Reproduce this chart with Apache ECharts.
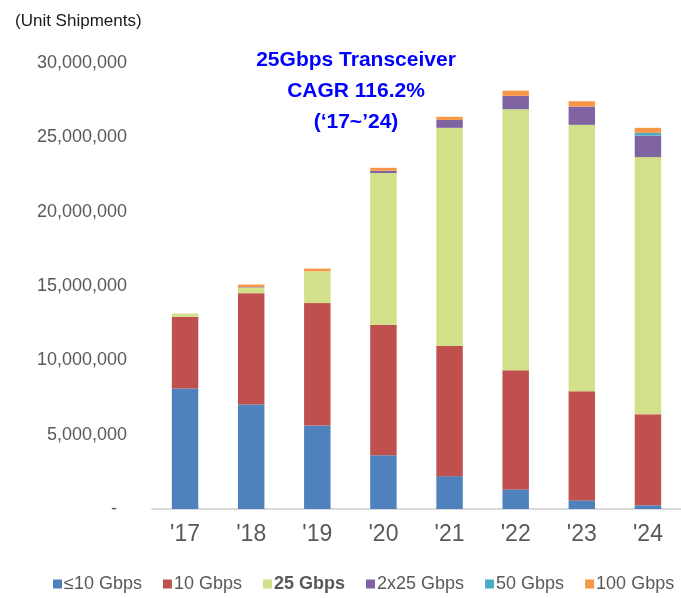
<!DOCTYPE html>
<html>
<head>
<meta charset="utf-8">
<script src="https://cdn.jsdelivr.net/npm/echarts@6/dist/echarts.min.js"></script>
<style>html,body{margin:0;padding:0;background:#fff;}#c{width:681px;height:598px;}</style>
</head>
<body>
<div id="c"></div>
<script>
var categories = ["'17", "'18", "'19", "'20", "'21", "'22", "'23", "'24"];
var seriesNames = ['\u226410 Gbps', '10 Gbps', '25 Gbps', '2x25 Gbps', '50 Gbps', '100 Gbps'];
var le10G = [8100000, 7030000, 5620000, 3620000, 2210000, 1320000, 580000, 250000];
var g10 = [4820000, 7490000, 8230000, 8770000, 8750000, 8010000, 7340000, 6130000];
var g25 = [230000, 380000, 2140000, 10210000, 14680000, 17560000, 17920000, 17290000];
var g2x25 = [0, 30000, 0, 150000, 530000, 900000, 1230000, 1450000];
var g50 = [0, 0, 0, 0, 0, 0, 0, 180000];
var g100 = [0, 170000, 180000, 200000, 210000, 350000, 360000, 340000];
var yTicks = [0, 5000000, 10000000, 15000000, 20000000, 25000000, 30000000];
var colors = ['#4F81BD', '#C0504D', '#D3E08A', '#8064A2', '#4BACC6', '#F79646'];
var seriesData = [le10G, g10, g25, g2x25, g50, g100];

var FONT = '"Liberation Sans", Arial, sans-serif';
var chart = echarts.init(document.getElementById('c'), null, {renderer: 'canvas'});

var series = seriesNames.map(function (n, i) {
  return {
    name: n,
    type: 'bar',
    stack: 'total',
    barWidth: '40%',
    data: seriesData[i],
    itemStyle: {color: colors[i]}
  };
});

chart.setOption({
  animation: false,
  textStyle: {fontFamily: FONT},
  title: {
    text: '(Unit Shipments)',
    left: 10, top: 8,
    textStyle: {fontSize: 17, fontWeight: 'normal', color: '#1a1a1a', fontFamily: FONT}
  },
  graphic: [{
    type: 'text',
    x: 356, y: 45,
    style: {
      text: '25Gbps Transceiver\nCAGR 116.2%\n(\u201817~\u201924)',
      align: 'center',
      verticalAlign: 'top',
      fill: '#0000FF',
      font: 'bold 21px ' + FONT,
      lineHeight: 31
    }
  }],
  legend: {
    left: 48, top: 570, width: 700,
    icon: 'rect', itemWidth: 9, itemHeight: 9, itemGap: 21,
    data: seriesNames,
    textStyle: {fontSize: 18, color: '#595959', fontFamily: FONT, padding: [0, 0, 0, -3],
      rich: {b: {fontSize: 18, fontWeight: 'bold', color: '#595959', fontFamily: FONT}}},
    formatter: function (name) { return name === '25 Gbps' ? '{b|' + name + '}' : name; }
  },
  grid: {left: 152, top: 63, width: 533, bottom: 89, containLabel: false},
  xAxis: {
    type: 'category',
    data: categories,
    axisLine: {lineStyle: {color: '#D9D9D9', width: 2}},
    axisTick: {show: false},
    axisLabel: {fontSize: 23, color: '#595959', margin: 14, fontFamily: FONT}
  },
  yAxis: {
    type: 'value',
    min: yTicks[0], max: yTicks[yTicks.length - 1], interval: 5000000,
    axisLine: {show: false}, axisTick: {show: false}, splitLine: {show: false},
    axisLabel: {
      fontSize: 18, color: '#595959', margin: 25, fontFamily: FONT,
      formatter: function (v) { return v === 0 ? '{d|-}' : v.toLocaleString('en-US'); },
      rich: {d: {fontSize: 18, color: '#595959', padding: [0, 10, 0, 0], fontFamily: FONT}}
    }
  },
  series: series
});
</script>
</body>
</html>
